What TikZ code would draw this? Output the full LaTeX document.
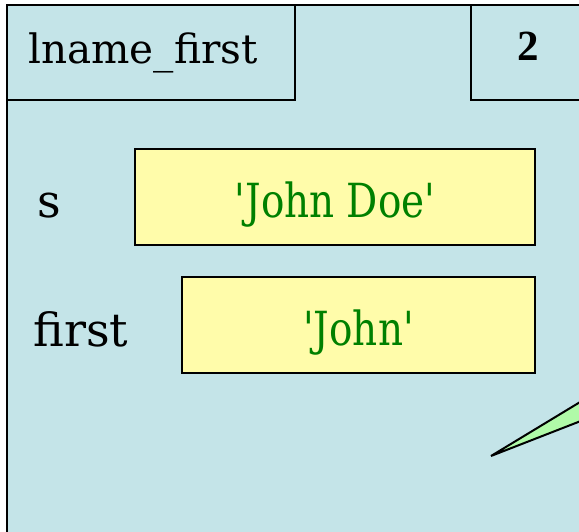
\documentclass[tikz,border=0pt]{standalone}
\usepackage{graphicx}
\usepackage{fontspec}
\setmainfont{DejaVu Serif}
\newfontfamily\condserif{DejaVu Serif Condensed}
\newfontfamily\numserif{Liberation Serif}
\usetikzlibrary{calc}
\definecolor{framebg}{RGB}{196,228,232}
\definecolor{boxfill}{RGB}{255,252,170}
\definecolor{strgreen}{RGB}{0,128,0}
\definecolor{tipgreen}{RGB}{176,250,168}
\begin{document}
\begin{tikzpicture}[x=1pt,y=-1pt,
  frameline/.style={draw=black,line width=2pt},
  valbox/.style={draw=black,line width=2pt,fill=boxfill},
  hdrlabel/.style={anchor=base,inner sep=0pt,font=\fontsize{40.5}{44}\selectfont},
  varlabel/.style={anchor=base,inner sep=0pt,font=\fontsize{46}{50}\selectfont},
  strval/.style={anchor=base,inner sep=0pt,text=strgreen,font=\fontsize{47}{50}\condserif}]
\useasboundingbox (0,0) rectangle (579,532);
\clip (0,0) rectangle (579,532);
% frame
\fill[framebg] (6.5,5) rectangle (600,560);
\draw[frameline] (6.5,560) -- (6.5,5) -- (600,5);
% header boxes
\draw[frameline] (6.5,5) rectangle (295,100.5);
\draw[frameline] (471,5) rectangle (600,100.5);
\node[hdrlabel] (fname) at (143,64) {lname\_first};
\node[hdrlabel,font=\fontsize{43}{46}\numserif\bfseries] (lineno) at (528,61) {2};
% variables
\node[varlabel] (svar) at (49,218) {s};
\node[varlabel] (firstvar) at (81,346) {first};
\node[valbox,minimum width=400pt,minimum height=96pt,inner sep=0pt] (sbox) at (335,197) {};
\node[valbox,minimum width=353pt,minimum height=96pt,inner sep=0pt] (firstbox) at (358.5,325) {};
\node[strval] (sval) at (335,218) {\scalebox{0.92}[1]{\textquotesingle John Doe\textquotesingle}};
\node[strval] (firstval) at (358.5,345) {\scalebox{0.92}[1]{\textquotesingle John\textquotesingle}};
% speech-bubble tail
\coordinate (tip) at (491,456);
\filldraw[fill=tipgreen,draw=black,line width=2pt,line join=miter]
  (tip) -- ($(tip)!1.3!(579,402.7)$) -- ($(tip)!1.3!(579,421.7)$) -- cycle;
\end{tikzpicture}
\end{document}
